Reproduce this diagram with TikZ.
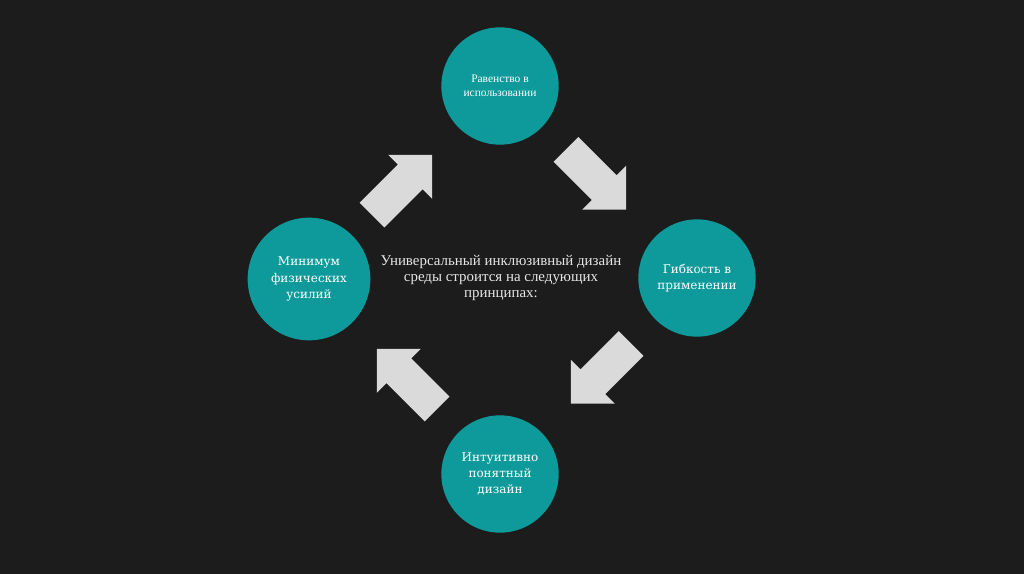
\documentclass[tikz,border=0pt]{standalone}
\usepackage{fontspec}
\setmainfont{Liberation Serif}
\newfontfamily\circfont{DejaVu Serif}
\definecolor{bgdark}{RGB}{28, 28, 28}
\definecolor{tealc}{RGB}{14, 154, 154}
\definecolor{arrowgray}{RGB}{218, 218, 218}
\definecolor{textgray}{RGB}{230, 230, 230}
\usetikzlibrary{calc}

\begin{document}
\begin{tikzpicture}[
  x=0.75pt, y=-0.75pt,
  principle/.style={circle, fill=tealc, minimum size=88pt, inner sep=0pt, align=center, text=white, font=\circfont\fontsize{9}{12.3}\selectfont},
  pics/flowarrow/.style={code={
    \fill[arrowgray] (-46,-17.5) -- (8,-17.5) -- (8,-31) -- (39,0) -- (8,31) -- (8,17.5) -- (-46,17.5) -- cycle;
  }}
]
  \fill[bgdark] (0,0) rectangle (1024,574);
  \useasboundingbox (0,0) rectangle (1024,574);

  % four principles
  \node[principle, font=\fontsize{8.6}{10.6}\selectfont] (equal) at (500,86) {Равенство в\\использовании};
  \node[principle] (flex) at (697,278) {Гибкость в\\применении};
  \node[principle] (intuit) at (500,474) {Интуитивно\\понятный\\дизайн};
  \node[principle, minimum size=92pt] (effort) at (309,279) {Минимум\\физических\\усилий};

  % central statement
  \node[align=center, text=textgray, font=\fontsize{11.2}{12.1}\selectfont] (core) at (501,278) {Универсальный инклюзивный дизайн\\среды строится на следующих\\принципах:};

  % block arrows between the circles
  \pic[rotate=-45] (a1) at ($(equal)!0.5!(flex)$) {flowarrow};
  \pic[rotate=-135] (a2) at ($(flex)!0.5!(intuit)$) {flowarrow};
  \pic[rotate=135] (a3) at ($(intuit)!0.5!(effort)$) {flowarrow};
  \pic[rotate=45] (a4) at ($(effort)!0.5!(equal)$) {flowarrow};
\end{tikzpicture}
\end{document}
